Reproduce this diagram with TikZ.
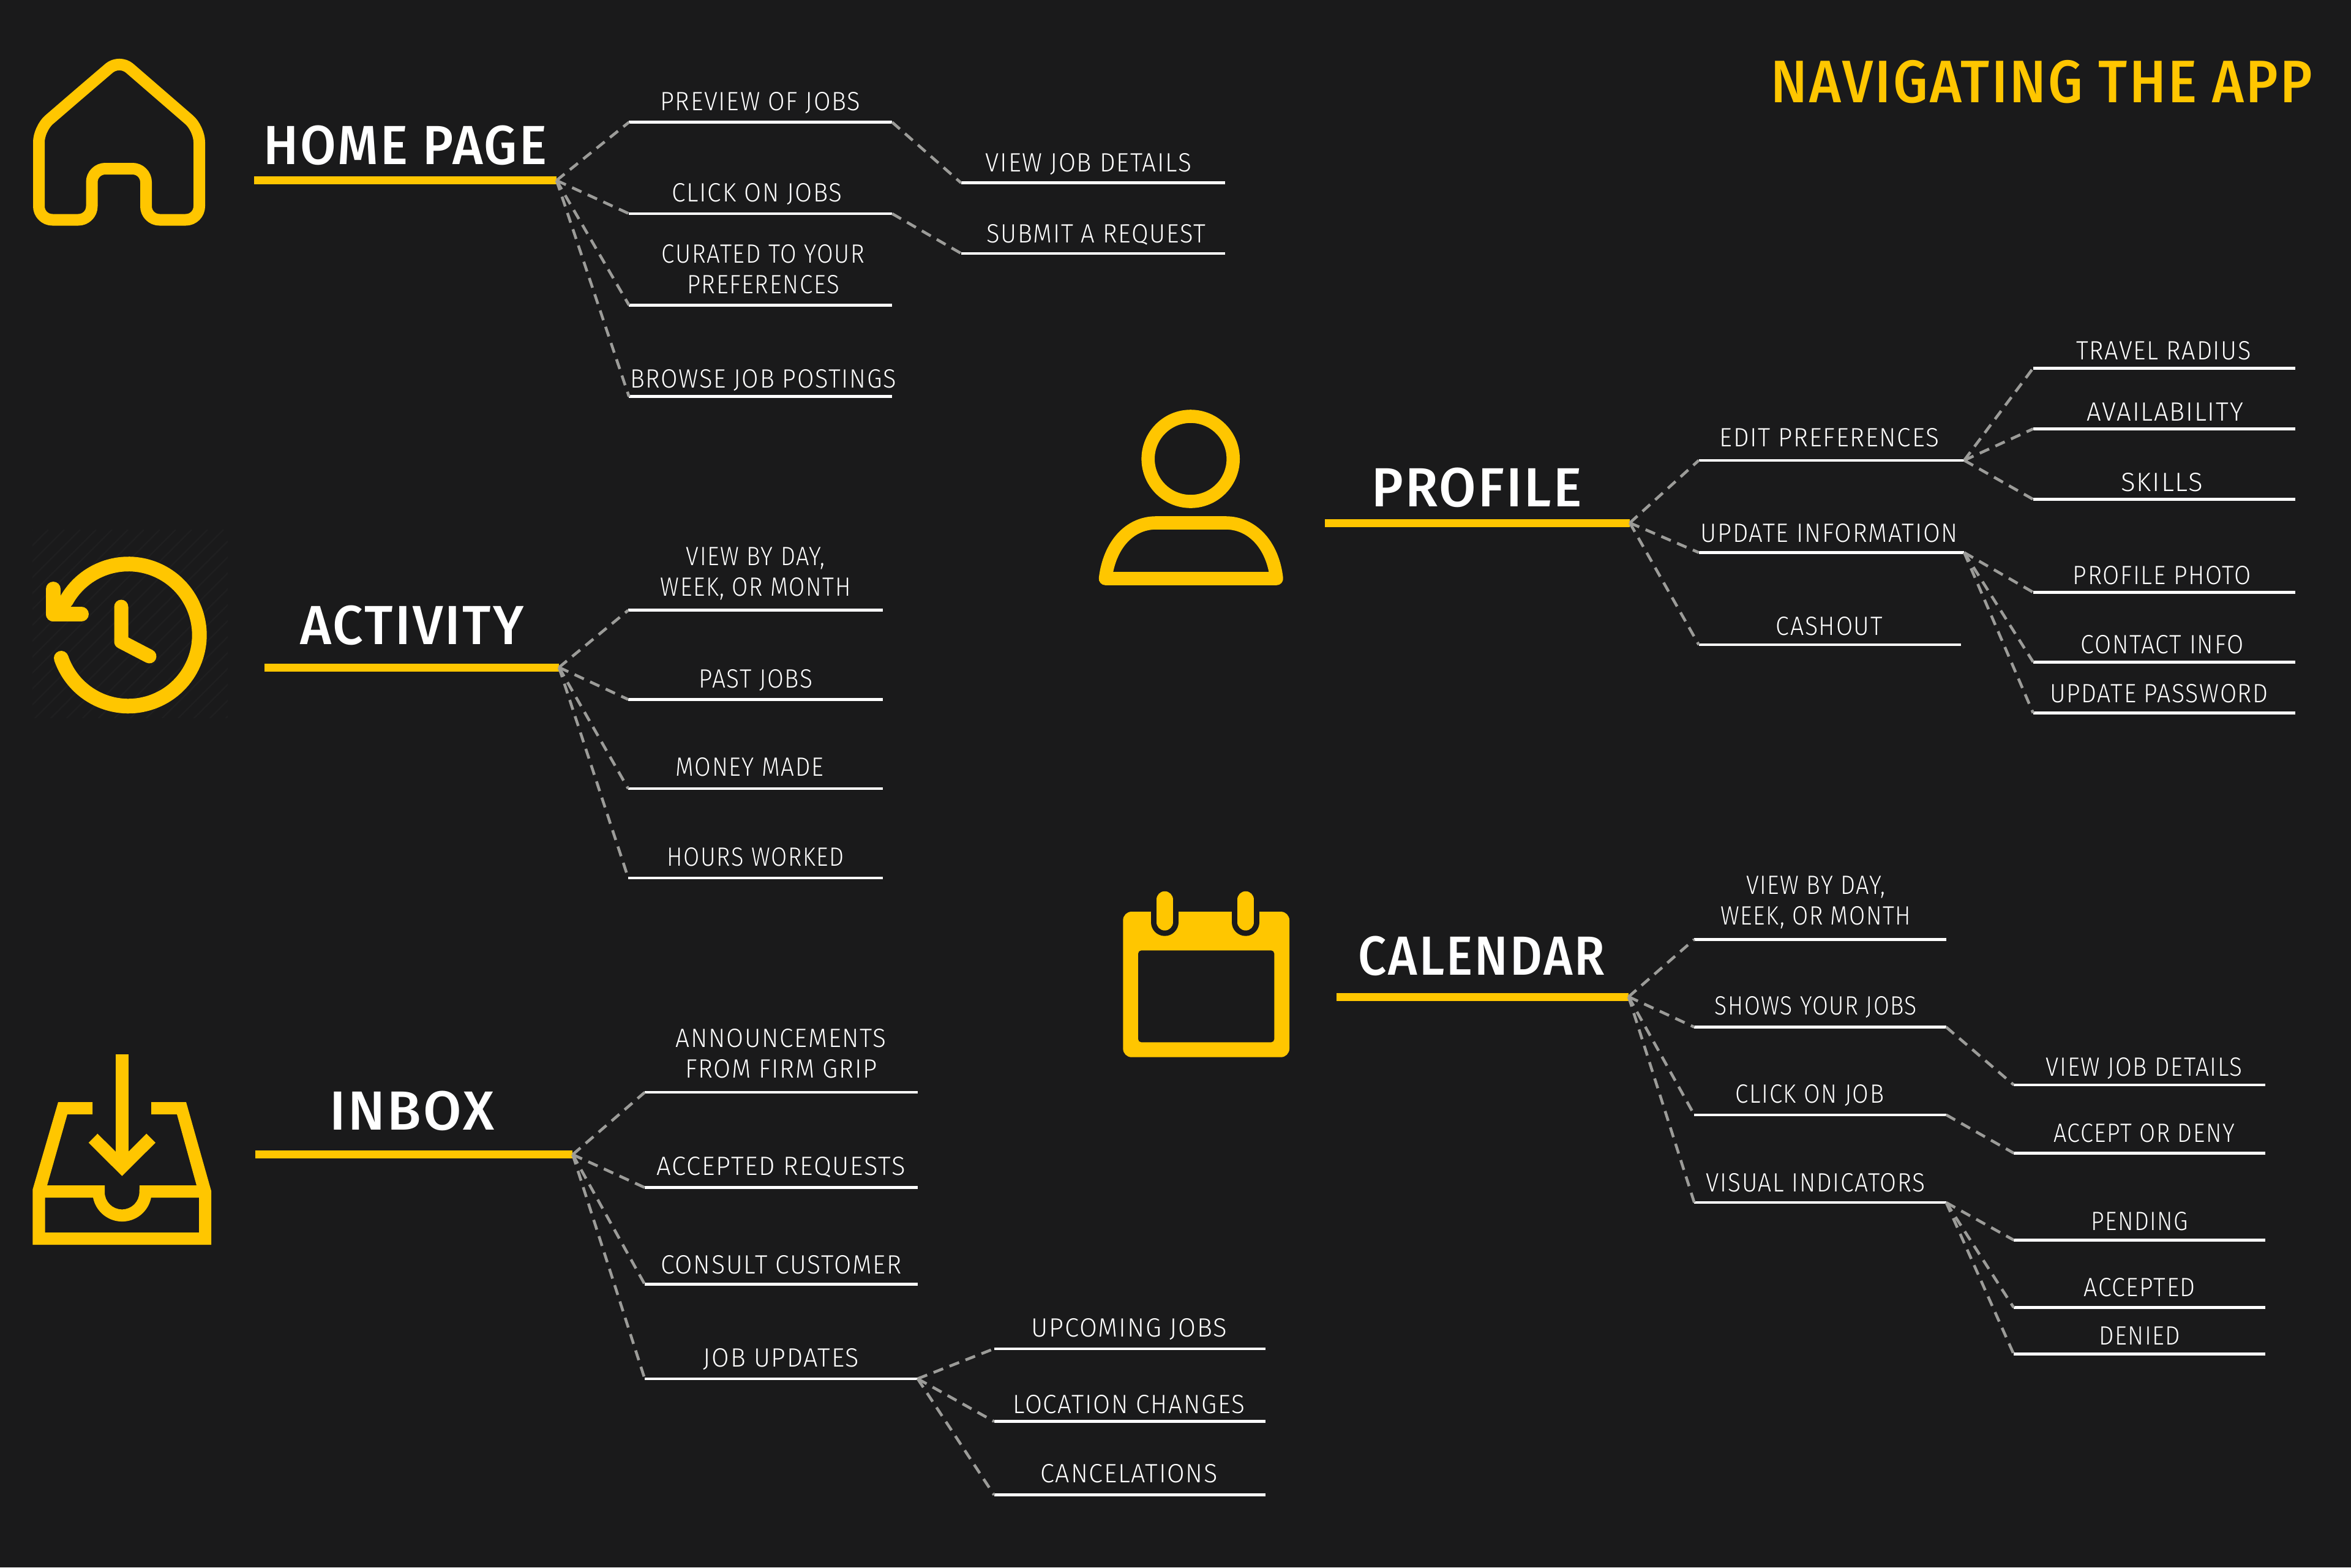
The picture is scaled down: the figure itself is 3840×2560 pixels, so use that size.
\documentclass[tikz,border=0pt]{standalone}
\usepackage{fontspec}
\setmainfont{Fira Sans}
\newfontfamily\leaffont[FakeStretch=0.94,LetterSpace=4]{Fira Sans Light}
\newfontfamily\headfont[FakeStretch=0.96,LetterSpace=3.5]{Fira Sans Medium}
\definecolor{bgc}{HTML}{1A1A1B}
\definecolor{hatchc}{HTML}{1F1F20}
\definecolor{amber}{HTML}{FFC600}
\definecolor{dashc}{HTML}{9C9C99}
\tikzset{
  leafrule/.style={fill=white,draw=none,inner sep=0pt,outer sep=0pt,minimum height=1.15pt},
  headrule/.style={fill=amber,draw=none,inner sep=0pt,outer sep=0pt,minimum height=3.25pt},
  leaftext/.style={text=white,anchor=base,inner sep=0pt,align=center,font=\leaffont\fontsize{10.8}{12.5}\selectfont},
  headtext/.style={text=white,anchor=base,inner sep=0pt,font=\headfont\fontsize{22.5}{26}\selectfont},
  titletext/.style={text=amber,anchor=base,inner sep=0pt,font=\headfont\fontsize{24.5}{28}\selectfont},
  squeeze/.style={transform shape,xscale=#1},
  linkdash/.style={draw=dashc,line width=1.15pt,dash pattern=on 4.2pt off 2.8pt},
  iconline/.style={draw=amber,fill=none,line width=#1,line join=round},
  iconline/.default=4.75pt
}
\newcommand{\leafitem}[8]{%
  \node[leafrule,minimum width={(#3-#2)*0.61224pt}] (#1u) at ({(#2+#3)/2},#4) {};
  \path (#5,{#6+5.7}) node[leaftext,squeeze=#8] (#1) {#7};
}
\begin{document}
\begin{tikzpicture}[x=0.25pt,y=-0.25pt]
\useasboundingbox (0,0) rectangle (3840,2560);
\fill[bgc] (0,0) rectangle (3840,2560);

% faint hatch behind the clock
\begin{scope}
  \clip (53,865) rectangle (372,1172);
  \foreach \k in {0,26,...,660}
    \draw[color=hatchc,line width=0.6pt] ({53+\k},865) -- ({53+\k-320},1185);
\end{scope}

% house
\draw[iconline,rounded corners=5.5pt] (129,153.5) -- (195,97) -- (325.5,210) -- (325.5,359) -- (238.5,359) -- (238.5,275.5) -- (150,275.5) -- (150,359) -- (63.5,359) -- (63.5,210) -- cycle;

% clock
\draw[iconline=6pt,line cap=round] (100,1075) arc[start angle=161,end angle=-151,radius=116] -- (87,1003);
\draw[iconline=6pt,line cap=round] (87,962) -- (87,1003) -- (133,1003);
\draw[iconline=5.75pt,line cap=round] (198,991) -- (198,1048) -- (244,1072);

% inbox
\draw[iconline=5.2pt,line join=miter] (199.3,1722) -- (199.3,1900);
\draw[iconline=5.2pt,line join=miter] (152,1859) -- (199.3,1906) -- (246.6,1859);
\fill[amber,even odd rule]
  (95,1800) -- (151,1800) -- (151,1820) -- (110,1820) -- (77,1936) -- (171,1936) -- (171,1947)
  arc[start angle=180,end angle=0,radius=28.3] -- (228,1936) -- (321,1936) -- (289,1820) -- (247,1820) -- (247,1800) -- (304,1800) -- (345,1945) -- (345,2033) -- (53.3,2033) -- (53.3,1943) -- cycle
  (73.7,1956) -- (152,1956) arc[start angle=169,end angle=11,radius=48.3] -- (325,1956) -- (325,2013) -- (73.7,2013) -- cycle;

% person
\draw[iconline=5.4pt] (1944.7,749.5) circle[radius=69.5];
\draw[iconline=5.4pt] (1805.5,945) .. controls (1812,890) and (1845,854) .. (1888,854) -- (2002,854) .. controls (2045,854) and (2079,890) .. (2085,945) -- cycle;

% calendar
\fill[amber,rounded corners=3.5pt] (1834.3,1489) rectangle (2106,1726.7);
\fill[bgc,rounded corners=1.3pt] (1859,1552.3) rectangle (2081.3,1702.3);
\foreach \cx in {1902.3,2034.7} {
  \draw[bgc,line width=11.25pt,line cap=round] (\cx,1480) -- (\cx,1506.2);
  \draw[amber,line width=6.85pt,line cap=round] (\cx,1469.4) -- (\cx,1506);
}

% title
\path (3335,167) node[titletext,squeeze=0.945] (title) {NAVIGATING THE APP};

% headings
\node[headrule,minimum width=123.5pt] (hhome) at (662,294.7) {};
\path (662,268) node[headtext,squeeze=0.984] (thome) {HOME PAGE};
\node[headrule,minimum width=120.25pt] (hact) at (672.5,1090) {};
\path (673,1052) node[headtext,squeeze=1.013] (tact) {ACTIVITY};
\node[headrule,minimum width=129.6pt] (hinb) at (676.2,1885.7) {};
\path (673,1845) node[headtext,squeeze=1.048] (tinb) {INBOX};
\node[headrule,minimum width=124.5pt] (hpro) at (2413,854) {};
\path (2412,827) node[headtext,squeeze=1.015] (tpro) {PROFILE};
\node[headrule,minimum width=119.25pt] (hcal) at (2421.5,1628) {};
\path (2420,1592) node[headtext,squeeze=0.943] (tcal) {CALENDAR};

\begin{scope}[x=0.61224pt,y=-0.61224pt]
% home page
\leafitem{h1}{419.5}{595}{81.5}{507}{68}{PREVIEW OF JOBS}{0.985}
\leafitem{h2}{419.5}{595}{142.5}{505}{129}{CLICK ON JOBS}{1}
\leafitem{h3}{419.5}{595}{203.5}{509}{190}{CURATED TO YOUR\\PREFERENCES}{0.95}
\leafitem{h4}{419.5}{595}{264.5}{509}{253}{BROWSE JOB POSTINGS}{0.98}
\leafitem{h5}{641}{817}{122}{726}{109}{VIEW JOB DETAILS}{1}
\leafitem{h6}{641}{817}{169}{731}{156}{SUBMIT A REQUEST}{0.985}
% activity
\leafitem{a1}{419}{589}{407}{504}{392}{VIEW BY DAY,\\WEEK, OR MONTH}{0.935}
\leafitem{a2}{419}{589}{466.5}{504}{453}{PAST JOBS}{0.96}
\leafitem{a3}{419}{589}{526}{500}{512}{MONEY MADE}{0.95}
\leafitem{a4}{419}{589}{585.5}{504}{572}{HOURS WORKED}{0.935}
% inbox
\leafitem{i1}{430}{612}{728.5}{521}{713}{ANNOUNCEMENTS\\FROM FIRM GRIP}{1}
\leafitem{i2}{430}{612}{792}{521}{778}{ACCEPTED REQUESTS}{1.03}
\leafitem{i3}{430}{612}{856.5}{521}{844}{CONSULT CUSTOMER}{1.012}
\leafitem{i4}{430}{612}{919.5}{521}{906}{JOB UPDATES}{1.02}
\leafitem{i5}{663}{844}{899.5}{753}{886}{UPCOMING JOBS}{1.03}
\leafitem{i6}{663}{844}{948}{753}{937}{LOCATION CHANGES}{1}
\leafitem{i7}{663}{844}{997}{753}{983}{CANCELATIONS}{1.02}
% profile
\leafitem{p1}{1133}{1310}{307}{1220}{292}{EDIT PREFERENCES}{1}
\leafitem{p2}{1133}{1310}{368.5}{1220}{356}{UPDATE INFORMATION}{0.99}
\leafitem{p3}{1133}{1308}{430}{1220}{418}{CASHOUT}{0.97}
\leafitem{p4}{1356}{1531}{245.5}{1443}{234}{TRAVEL RADIUS}{0.98}
\leafitem{p5}{1356}{1531}{286}{1444}{275}{AVAILABILITY}{1.03}
\leafitem{p6}{1356}{1531}{333}{1442}{322}{SKILLS}{1.08}
\leafitem{p7}{1356}{1531}{395}{1442}{384}{PROFILE PHOTO}{0.97}
\leafitem{p8}{1356}{1531}{441.5}{1442}{430}{CONTACT INFO}{0.97}
\leafitem{p9}{1356}{1531}{475.5}{1440}{463}{UPDATE PASSWORD}{0.97}
% calendar
\leafitem{c1}{1130}{1298}{626.5}{1211}{611}{VIEW BY DAY,\\WEEK, OR MONTH}{0.935}
\leafitem{c2}{1130}{1298}{685}{1211}{671}{SHOWS YOUR JOBS}{0.92}
\leafitem{c3}{1130}{1298}{743.5}{1207}{730}{CLICK ON JOB}{0.95}
\leafitem{c4}{1130}{1298}{802}{1211}{789}{VISUAL INDICATORS}{0.96}
\leafitem{c5}{1343}{1511}{723.5}{1430}{712}{VIEW JOB DETAILS}{0.955}
\leafitem{c6}{1343}{1511}{769}{1430}{756}{ACCEPT OR DENY}{0.93}
\leafitem{c7}{1343}{1511}{827}{1427}{815}{PENDING}{0.93}
\leafitem{c8}{1343}{1511}{872}{1427}{859}{ACCEPTED}{0.97}
\leafitem{c9}{1343}{1511}{903}{1427}{891}{DENIED}{0.95}
\end{scope}

% connectors
\foreach \t in {h1,h2,h3,h4} \draw[linkdash] (hhome.east) -- (\t u.west);
\draw[linkdash] (h1u.east) -- (h5u.west);
\draw[linkdash] (h2u.east) -- (h6u.west);
\foreach \t in {a1,a2,a3,a4} \draw[linkdash] (hact.east) -- (\t u.west);
\foreach \t in {i1,i2,i3,i4} \draw[linkdash] (hinb.east) -- (\t u.west);
\foreach \t in {i5,i6,i7} \draw[linkdash] (i4u.east) -- (\t u.west);
\foreach \t in {p1,p2,p3} \draw[linkdash] (hpro.east) -- (\t u.west);
\foreach \t in {p4,p5,p6} \draw[linkdash] (p1u.east) -- (\t u.west);
\foreach \t in {p7,p8,p9} \draw[linkdash] (p2u.east) -- (\t u.west);
\foreach \t in {c1,c2,c3,c4} \draw[linkdash] (hcal.east) -- (\t u.west);
\draw[linkdash] (c2u.east) -- (c5u.west);
\draw[linkdash] (c3u.east) -- (c6u.west);
\foreach \t in {c7,c8,c9} \draw[linkdash] (c4u.east) -- (\t u.west);
\end{tikzpicture}
\end{document}
